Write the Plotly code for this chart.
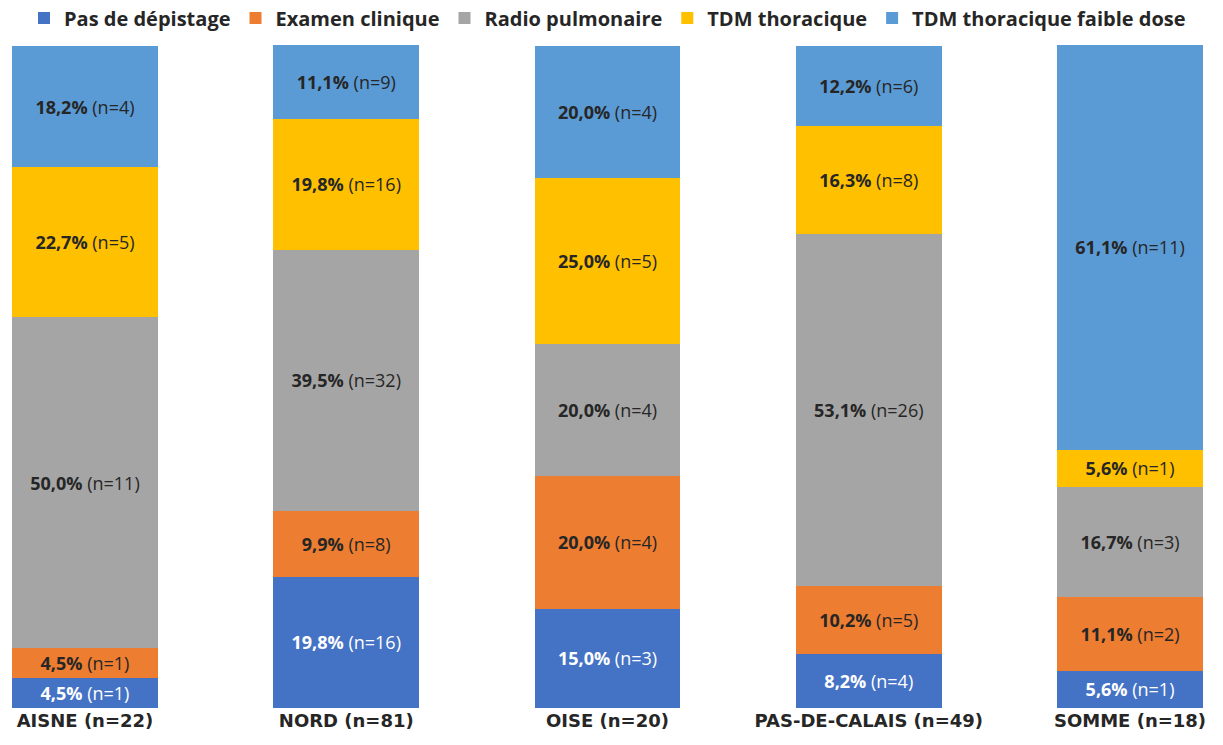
import plotly.graph_objects as go

departements = ["AISNE (n=22)", "NORD (n=81)", "OISE (n=20)", "PAS-DE-CALAIS (n=49)", "SOMME (n=18)"]

pas_depistage_pct = [4.5, 19.8, 15.0, 8.2, 5.6]
pas_depistage_n = [1, 16, 3, 4, 1]
examen_clinique_pct = [4.5, 9.9, 20.0, 10.2, 11.1]
examen_clinique_n = [1, 8, 4, 5, 2]
radio_pulmonaire_pct = [50.0, 39.5, 20.0, 53.1, 16.7]
radio_pulmonaire_n = [11, 32, 4, 26, 3]
tdm_thoracique_pct = [22.7, 19.8, 25.0, 16.3, 5.6]
tdm_thoracique_n = [5, 16, 5, 8, 1]
tdm_faible_dose_pct = [18.2, 11.1, 20.0, 12.2, 61.1]
tdm_faible_dose_n = [4, 9, 4, 6, 11]

series = [
    ("Pas de dépistage", pas_depistage_pct, pas_depistage_n, "#4472C4", "white"),
    ("Examen clinique", examen_clinique_pct, examen_clinique_n, "#ED7D31", "#262626"),
    ("Radio pulmonaire", radio_pulmonaire_pct, radio_pulmonaire_n, "#A5A5A5", "#262626"),
    ("TDM thoracique", tdm_thoracique_pct, tdm_thoracique_n, "#FFC000", "#262626"),
    ("TDM thoracique faible dose", tdm_faible_dose_pct, tdm_faible_dose_n, "#5B9BD5", "#262626"),
]

fig = go.Figure()
for name, pct, n, color, txtcolor in series:
    fig.add_trace(go.Bar(
        name=name,
        x=departements,
        y=pct,
        customdata=n,
        width=0.5587,
        marker=dict(color=color, line=dict(width=0)),
        texttemplate="<b>%{y:.1f}%</b> (n=%{customdata})",
        textposition="inside",
        insidetextanchor="middle",
        textangle=0,
        constraintext="none",
        textfont=dict(family="Open Sans, sans-serif", size=18, color=txtcolor),
        hoverinfo="skip",
    ))

fig.update_layout(
    barmode="stack",
    width=1223,
    height=745,
    separators=", ",
    paper_bgcolor="white",
    plot_bgcolor="white",
    margin=dict(l=12, r=20, t=45, b=37, autoexpand=False),
    uniformtext=dict(minsize=18, mode="show"),
    legend=dict(
        orientation="h",
        x=0.5, xanchor="center",
        y=0.976, yanchor="middle",
        yref="container",
        font=dict(family="Open Sans, sans-serif", size=20, color="#262626", weight="bold"),
        itemwidth=30,
        traceorder="normal",
    ),
    xaxis=dict(
        range=[-0.2793, 4.2793],
        showgrid=False,
        showline=False,
        ticks="",
        tickfont=dict(family="DejaVu Sans, sans-serif", size=18, color="#262626", weight="bold"),
    ),
    yaxis=dict(
        range=[0, 100.1],
        visible=False,
    ),
)

fig.write_html("out.html")
